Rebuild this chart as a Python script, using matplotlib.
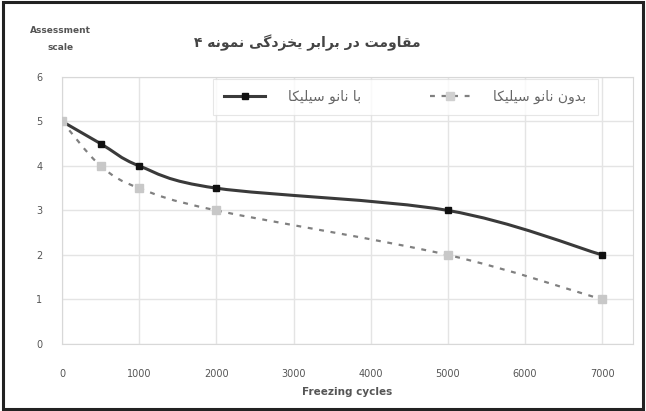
import matplotlib
matplotlib.use("Agg")
import matplotlib.pyplot as plt
from matplotlib.patches import Rectangle, PathPatch
from matplotlib.path import Path
from matplotlib.lines import Line2D

# freeze-thaw cycles and assessment scale for the two mixes
cycles = [0, 500, 1000, 2000, 5000, 7000]
with_silica = [5.0, 4.5, 4.0, 3.5, 3.0, 2.0]
without_silica = [5.0, 4.0, 3.5, 3.0, 2.0, 1.0]

x_ticks = [0, 1000, 2000, 3000, 4000, 5000, 6000, 7000]
y_ticks = [0, 1, 2, 3, 4, 5, 6]

title_fa = "مقاومت در برابر یخزدگی نمونه ۴"
label_with = "با نانو سیلیکا"
label_without = "بدون نانو سیلیکا"

# matplotlib has no arabic shaping, so pick presentation forms by hand
# letter: (isolated, final, initial, medial)
FORMS = {
    "ا": ("\uFE8D", "\uFE8E", None, None),
    "ب": ("\uFE8F", "\uFE90", "\uFE91", "\uFE92"),
    "ت": ("\uFE95", "\uFE96", "\uFE97", "\uFE98"),
    "خ": ("\uFEA5", "\uFEA6", "\uFEA7", "\uFEA8"),
    "د": ("\uFEA9", "\uFEAA", None, None),
    "ر": ("\uFEAD", "\uFEAE", None, None),
    "ز": ("\uFEAF", "\uFEB0", None, None),
    "س": ("\uFEB1", "\uFEB2", "\uFEB3", "\uFEB4"),
    "ق": ("\uFED5", "\uFED6", "\uFED7", "\uFED8"),
    "ک": ("\uFB8E", "\uFB8F", "\uFB90", "\uFB91"),
    "گ": ("\uFB92", "\uFB93", "\uFB94", "\uFB95"),
    "ل": ("\uFEDD", "\uFEDE", "\uFEDF", "\uFEE0"),
    "م": ("\uFEE1", "\uFEE2", "\uFEE3", "\uFEE4"),
    "ن": ("\uFEE5", "\uFEE6", "\uFEE7", "\uFEE8"),
    "ه": ("\uFEE9", "\uFEEA", "\uFEEB", "\uFEEC"),
    "و": ("\uFEED", "\uFEEE", None, None),
    "ی": ("\uFBFC", "\uFBFD", "\uFBFE", "\uFBFF"),
}


def shape_fa(text):
    out = []
    for i, ch in enumerate(text):
        if ch not in FORMS:
            out.append(ch)
            continue
        prev = text[i - 1] if i > 0 else ""
        nxt = text[i + 1] if i + 1 < len(text) else ""
        join_prev = prev in FORMS and FORMS[prev][2] is not None
        join_next = nxt in FORMS and FORMS[ch][2] is not None
        iso, fin, ini, med = FORMS[ch]
        if join_prev and join_next:
            out.append(med)
        elif join_prev:
            out.append(fin)
        elif join_next:
            out.append(ini)
        else:
            out.append(iso)
    return "".join(reversed(out))


def smooth_path(xs, ys):
    # bezier through every point, excel style smoothed line
    pts = list(zip(xs, ys))
    verts = [pts[0]]
    codes = [Path.MOVETO]
    for i in range(len(pts) - 1):
        p0 = pts[i - 1] if i > 0 else pts[i]
        p1 = pts[i]
        p2 = pts[i + 1]
        p3 = pts[i + 2] if i + 2 < len(pts) else pts[i + 1]
        c1 = (p1[0] + (p2[0] - p0[0]) / 6, p1[1] + (p2[1] - p0[1]) / 6)
        c2 = (p2[0] - (p3[0] - p1[0]) / 6, p2[1] - (p3[1] - p1[1]) / 6)
        verts += [c1, c2, p2]
        codes += [Path.CURVE4] * 3
    return Path(verts, codes)


plt.rcParams["font.family"] = ["DejaVu Sans"]

fig = plt.figure(figsize=(6.46, 4.11), dpi=100)
ax = fig.add_axes([0.096, 0.163, 0.884, 0.650])

solid_style = dict(color="#3a3a3a", lw=2.2)
dash_style = dict(color="#808080", lw=1.6, ls=(0, (2.2, 3)))

ax.add_patch(PathPatch(smooth_path(cycles, with_silica), fill=False,
                       edgecolor=solid_style["color"], lw=solid_style["lw"],
                       capstyle="round", zorder=2))
ax.add_patch(PathPatch(smooth_path(cycles, without_silica), fill=False,
                       edgecolor=dash_style["color"], lw=dash_style["lw"],
                       ls=dash_style["ls"], zorder=2))
ax.plot(cycles, with_silica, ls="none", marker="s", markersize=4,
        color="#111111", zorder=3)
ax.plot(cycles, without_silica, ls="none", marker="s", markersize=6,
        color="#c8c8c8", zorder=3)

ax.set_xlim(0, 7400)
ax.set_ylim(0, 6)
ax.set_xticks(x_ticks)
ax.set_yticks(y_ticks)
ax.tick_params(labelsize=7, colors="#555555", length=0, pad=14)
ax.tick_params(axis="x", pad=18)
ax.grid(True, color="#e4e4e4", lw=1)
for side in ax.spines:
    ax.spines[side].set_color("#d8d8d8")

ax.set_xlabel("Freezing cycles", fontsize=7.5, color="#555555",
              fontweight="bold", labelpad=6)
fig.text(0.093, 0.905, "Assessment\nscale", ha="center", va="center",
         fontsize=6.5, color="#555555", fontweight="bold", linespacing=2.2)
fig.text(0.475, 0.895, shape_fa(title_fa), ha="center", va="center",
         fontsize=10, color="#444444", fontweight="bold")

handles = [
    Line2D([], [], marker="s", markersize=5, markerfacecolor="#111111",
           markeredgecolor="#111111", **solid_style),
    Line2D([], [], marker="s", markersize=6, markerfacecolor="#d0d0d0",
           markeredgecolor="#d0d0d0", **dash_style),
]
leg = ax.legend(handles, [shape_fa(label_with), shape_fa(label_without)],
                loc="center left", bbox_to_anchor=(0.26, 0.925),
                ncol=2, fontsize=10, frameon=True, handlelength=2.9,
                borderpad=0.5, handletextpad=1.65, columnspacing=5.0)
leg.get_frame().set_edgecolor("#e0e0e0")
leg.get_frame().set_linewidth(0.8)
leg.get_frame().set_boxstyle("square")
for t in leg.get_texts():
    t.set_color("#666666")

fig.patches.append(Rectangle((0.004, 0.004), 0.992, 0.992,
                             transform=fig.transFigure, fill=False,
                             edgecolor="#222222", lw=2.2))

fig.savefig("out.png", dpi=100)
